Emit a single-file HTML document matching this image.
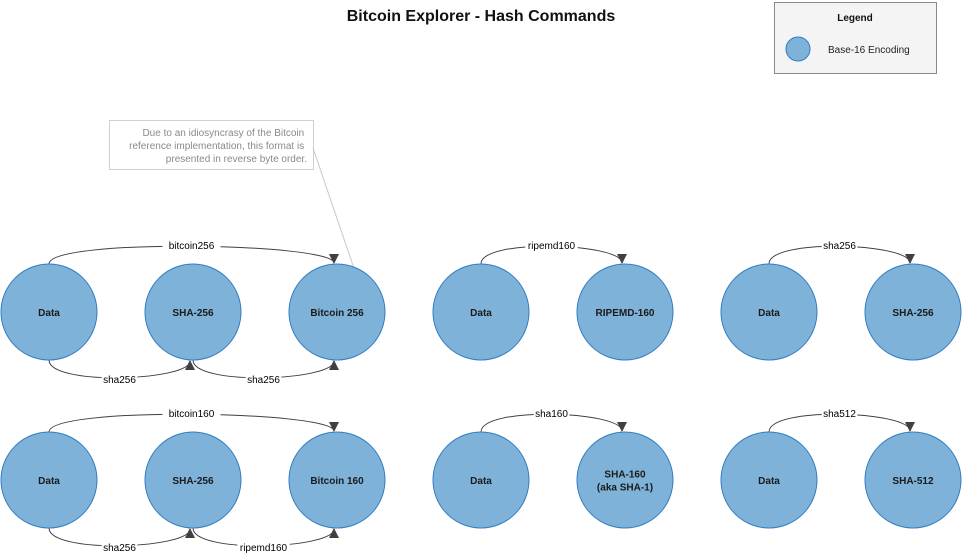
<!DOCTYPE html>
<html><head><meta charset="utf-8"><style>
body{margin:0;background:#fff;}
svg{display:block;font-family:"Liberation Sans",sans-serif;}
</style></head><body>
<svg id="d" width="962" height="554" viewBox="0 0 962 554">
<defs>
<marker id="ah" viewBox="0 0 10 10" refX="9" refY="5" markerWidth="11" markerHeight="10" orient="auto-start-reverse" markerUnits="userSpaceOnUse">
<path d="M0,0 L10,5 L0,10 z" fill="#404040"/></marker>
</defs>
<text x="481" y="21" text-anchor="middle" font-size="16" font-weight="bold" fill="#111">Bitcoin Explorer - Hash Commands</text>
<g>
<rect x="774.5" y="2.5" width="162" height="71" fill="#f4f4f4" stroke="#8a8a8a"/>
<text x="855" y="21" text-anchor="middle" font-size="10" font-weight="bold" fill="#111">Legend</text>
<circle cx="798" cy="49" r="12" fill="#7fb2d9" stroke="#2f7dc4" stroke-width="1"/>
<text x="828" y="53" font-size="10" fill="#222">Base-16 Encoding</text>
</g>
<g>
<rect x="109.5" y="120.5" width="204" height="49" fill="#fff" stroke="#d0d0d0"/>
<line x1="313" y1="148" x2="362" y2="292" stroke="#c8c8c8"/>
<text font-size="10" fill="#8a8a8a" text-anchor="end">
<tspan x="307" y="136">Due to an idiosyncrasy of the Bitcoin</tspan>
<tspan x="307" y="149">reference implementation, this format is</tspan>
<tspan x="307" y="162">presented in reverse byte order.</tspan>
</text>
</g>
<g id="edges"></g>
<g id="nodes"></g>
</svg>
<script>
const nodeLabels=[["Data","SHA-256","Bitcoin 256"],["Data","RIPEMD-160"],["Data","SHA-256"],["Data","SHA-256","Bitcoin 160"],["Data","SHA-160|(aka SHA-1)"],["Data","SHA-512"]];
const groupCol=[0,3,5,0,3,5];
const groupRow=[0,0,0,1,1,1];
// edges: [group, from, to, side, label]
const edgeList=[[0,0,2,"top","bitcoin256"],[0,0,1,"bot","sha256"],[0,1,2,"bot","sha256"],
[1,0,1,"top","ripemd160"],[2,0,1,"top","sha256"],
[3,0,2,"top","bitcoin160"],[3,0,1,"bot","sha256"],[3,1,2,"bot","ripemd160"],
[4,0,1,"top","sha160"],[5,0,1,"top","sha512"]];
const NS="http://www.w3.org/2000/svg";
const R=48;
function cx(col){return 49+col*144;}
function cy(row){return 312+row*168;}
const eg=document.getElementById("edges"),ng=document.getElementById("nodes");
function mk(t,a){const e=document.createElementNS(NS,t);for(const k in a)e.setAttribute(k,a[k]);return e;}
nodeLabels.forEach((g,gi)=>{g.forEach((lab,i)=>{
 const x=cx(groupCol[gi]+i),y=cy(groupRow[gi]);
 const c=mk("circle",{cx:x,cy:y,r:R,fill:"#7fb2d9",stroke:"#2f7dc4","stroke-width":1});
 
 
 ng.appendChild(c);
 const lines=lab.split("|");
 lines.forEach((l,li)=>{
  const t=mk("text",{x:x,y:y+4+(li-(lines.length-1)/2)*13,"text-anchor":"middle","font-size":"10","font-weight":"bold",fill:"#1a1a1a"});
  t.textContent=l;
  
  
  ng.appendChild(t);
 });
});});
edgeList.forEach(e=>{
 const [g,f,to,side,lab]=e;
 const x1=cx(groupCol[g]+f),x2=cx(groupCol[g]+to)-3,y=cy(groupRow[g]);
 const s=side==="top"?-1:1;
 const ya=y+s*R,yb=y+s*(R+1);
 const k=s*26;
 const p=mk("path",{d:`M${x1},${ya} C${x1},${ya+k} ${x2},${yb+k-s*6} ${x2},${yb}`,fill:"none",stroke:"#404040","stroke-width":1,"marker-end":"url(#ah)"});
 
 
 eg.appendChild(p);
 const mx=(x1+x2)/2,my=ya+s*19;
 const bg=mk("rect",{x:mx-lab.length*2.8-1,y:my-7,width:lab.length*5.6+2,height:13,fill:"#fff"});
 
 
 eg.appendChild(bg);
 const t=mk("text",{x:mx,y:my+4,"text-anchor":"middle","font-size":"10",fill:"#000"});
 t.textContent=lab;
 
 
 eg.appendChild(t);
});
</script>
</body></html>
